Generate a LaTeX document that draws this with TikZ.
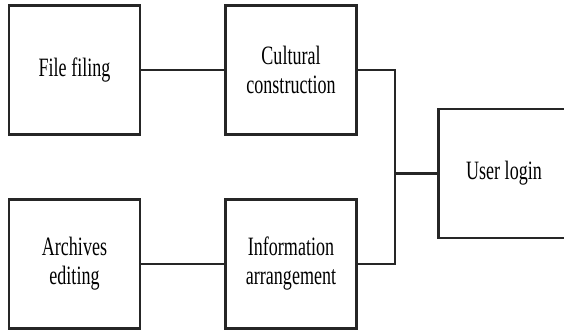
\documentclass[tikz,border=0pt]{standalone}
\usepackage{fontspec}
\setmainfont{Liberation Serif}[FakeStretch=0.68]
\begin{document}
\begin{tikzpicture}[x=1pt,y=-1pt,
  box/.style={draw=black!85,line width=2.2pt,minimum width=131pt,minimum height=129pt,
    inner sep=0pt,align=center,font=\fontsize{26.5}{29}\selectfont},
  link/.style={draw=black!85,line width=2.2pt}]
\useasboundingbox (0,0) rectangle (564,334);
\node[box] (ff) at (74.5,70) {File filing};
\node[box] (cc) at (291,70) {Cultural\\construction};
\node[box] (ae) at (74.5,264) {Archives\\editing};
\node[box] (ia) at (291,264) {Information\\arrangement};
\node[box] (ul) at (504,173.5) {User login};
\coordinate (j) at (395,173.5);
\draw[link] (ff) -- (cc);
\draw[link] (ae) -- (ia);
\draw[link] (cc.east) -| (j);
\draw[link] (ia.east) -| (j);
\draw[link] (j) -- (ul.west);
\end{tikzpicture}
\end{document}
